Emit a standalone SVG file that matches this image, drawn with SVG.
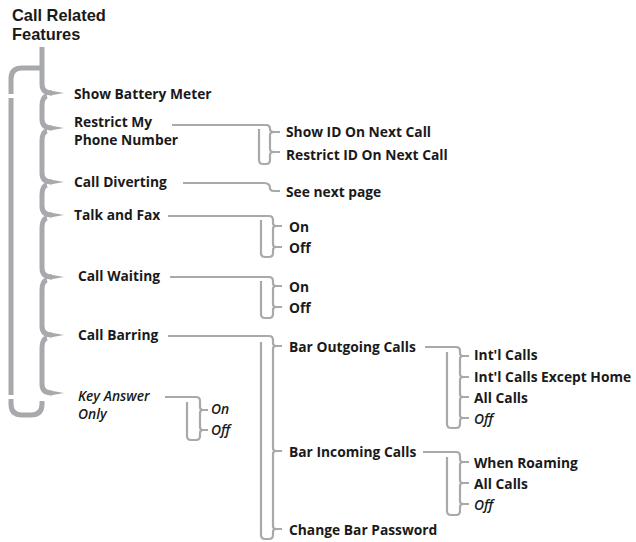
<svg xmlns="http://www.w3.org/2000/svg" width="636" height="542" viewBox="0 0 636 542">
<style>
.ln{fill:none;stroke:#a7a9ac;stroke-width:2.2;stroke-linecap:butt;stroke-linejoin:round}
.mn{fill:none;stroke:#a7a9ac;stroke-width:5;stroke-linecap:butt}
.tp{fill:#a7a9ac}
text{font-family:"Open Sans","Noto Sans","Liberation Sans",sans-serif;font-size:13.8px;font-weight:700;fill:#1a1a1a}
.it{font-style:italic;font-weight:600}
.ti{font-family:"Liberation Sans",Arial,sans-serif;font-size:16.4px;font-weight:700}
</style>
<rect width="636" height="542" fill="#fff"/>
<g id="connectors">
<g id="main-tree">
<path class="mn" d="M42 47 L42 84 Q42 93 52 93"/>
<path class="mn" d="M47 96 Q42 97 42 106 L42 119 Q42 128 52 128"/>
<path class="mn" d="M47 131 Q42 132 42 141 L42 173 Q42 182 52 182"/>
<path class="mn" d="M47 185 Q42 186 42 195 L42 206 Q42 215 52 215"/>
<path class="mn" d="M47 218 Q42 219 42 228 L42 268 Q42 277 52 277"/>
<path class="mn" d="M47 280 Q42 281 42 290 L42 326 Q42 335 52 335"/>
<path class="mn" d="M47 338 Q42 339 42 348 L42 384 Q42 393 52 393"/>
<polygon class="tp" points="50,90.5 64,93 50,95.5"/>
<polygon class="tp" points="50,125.5 64,128 50,130.5"/>
<polygon class="tp" points="50,179.5 64,182 50,184.5"/>
<polygon class="tp" points="50,212.5 64,215 50,217.5"/>
<polygon class="tp" points="50,274.5 64,277 50,279.5"/>
<polygon class="tp" points="50,332.5 64,335 50,337.5"/>
<polygon class="tp" points="50,390.5 64,393 50,395.5"/>
<path class="mn" d="M40 68 L22 68 Q11 68 11 79 L11 94"/>
<path class="mn" d="M11 98 L11 395"/>
<path class="mn" d="M11 399 L11 404 Q11 415 22 415 L31 415 Q42 415 42 404 L42 401"/>
</g>
<g id="restrict-bracket">
<path class="ln" d="M172 125 L266 125 Q270 125 270 129 Q270 132 274 132 L280 132 M274 132 Q270 132 270 135 L270 149 Q270 152 274 152 L280 152 M274 152 Q270 152 270 155 L270 160 Q270 164 266 164 L263 164 Q259 164 259 160 L259 129"/>
</g>
<g id="divert-link">
<path class="ln" d="M183 183 L264 183 Q270 183 270 188 Q270 191 274 191 L280 191"/>
</g>
<g id="talkfax-bracket">
<path class="ln" d="M168 216 L269 216 Q273 216 273 220 L273 223 Q273 226 276 226 L282 226 M276 226 Q273 226 273 229 L273 244 Q273 247 276 247 L282 247 M276 247 Q273 247 273 250 L273 253 Q273 257 269 257 L265 257 Q261 257 261 253 L261 220"/>
</g>
<g id="waiting-bracket">
<path class="ln" d="M170 277 L269 277 Q273 277 273 281 L273 283 Q273 286 276 286 L282 286 M276 286 Q273 286 273 289 L273 304 Q273 307 276 307 L282 307 M276 307 Q273 307 273 310 L273 314 Q273 318 269 318 L265 318 Q261 318 261 314 L261 281"/>
</g>
<g id="barring-bracket">
<path class="ln" d="M168 336 L269 336 Q273 336 273 340 L273 343 Q273 346 276 346 L282 346 M276 346 Q273 346 273 349 L273 448 Q273 451 276 451 L282 451 M276 451 Q273 451 273 454 L273 526 Q273 529 276 529 L282 529 M276 529 Q273 529 273 532 L273 535 Q273 539 269 539 L265 539 Q261 539 261 535 L261 342"/>
</g>
<g id="outgoing-bracket">
<path class="ln" d="M425 347 L456 347 Q460 347 460 351 L460 353 Q460 356 463 356 L469 356 M463 356 Q460 356 460 359 L460 374 Q460 377 463 377 L469 377 M463 377 Q460 377 460 380 L460 394 Q460 397 463 397 L469 397 M463 397 Q460 397 460 400 L460 415 Q460 418 463 418 L469 418 M463 418 Q460 418 460 421 L460 424 Q460 428 456 428 L451 428 Q447 428 447 424 L447 352"/>
</g>
<g id="incoming-bracket">
<path class="ln" d="M423 452 L456 452 Q460 452 460 456 L460 459 Q460 462 463 462 L469 462 M463 462 Q460 462 460 465 L460 480 Q460 483 463 483 L469 483 M463 483 Q460 483 460 486 L460 501 Q460 504 463 504 L469 504 M463 504 Q460 504 460 507 L460 511 Q460 515 456 515 L451 515 Q447 515 447 511 L447 457"/>
</g>
<g id="keyanswer-bracket">
<path class="ln" d="M165 397 L196 397 Q200 397 200 401 L200 407 Q200 410 203 410 L208 410 M203 410 Q200 410 200 413 L200 427 Q200 430 203 430 L208 430 M203 430 Q200 430 200 433 L200 436 Q200 440 196 440 L191 440 Q187 440 187 436 L187 402"/>
</g>
</g>
<g id="root"><text class="ti" x="12" y="21">Call Related<tspan x="12" y="40">Features</tspan></text></g>
<g id="n-battery"><text x="74" y="99">Show Battery Meter</text></g>
<g id="n-restrict"><text x="74" y="127">Restrict My<tspan x="74" y="145">Phone Number</tspan></text></g>
<g id="n-showid"><text x="286" y="137">Show ID On Next Call</text></g>
<g id="n-restrictid"><text x="286" y="160">Restrict ID On Next Call</text></g>
<g id="n-divert"><text x="74" y="187">Call Diverting</text></g>
<g id="n-seenext"><text x="286" y="197">See next page</text></g>
<g id="n-talkfax"><text x="74" y="220">Talk and Fax</text></g>
<g id="n-tf-on"><text x="289" y="232">On</text></g>
<g id="n-tf-off"><text x="289" y="253">Off</text></g>
<g id="n-waiting"><text x="78" y="281">Call Waiting</text></g>
<g id="n-cw-on"><text x="289" y="292">On</text></g>
<g id="n-cw-off"><text x="289" y="313">Off</text></g>
<g id="n-barring"><text x="78" y="340">Call Barring</text></g>
<g id="n-barout"><text x="289" y="352">Bar Outgoing Calls</text></g>
<g id="n-intl"><text x="474" y="360">Int'l Calls</text></g>
<g id="n-intlhome"><text x="474" y="382">Int'l Calls Except Home</text></g>
<g id="n-allout"><text x="474" y="403">All Calls</text></g>
<g id="n-offout"><text class="it" x="474" y="424">Off</text></g>
<g id="n-barin"><text x="289" y="457">Bar Incoming Calls</text></g>
<g id="n-roam"><text x="474" y="468">When Roaming</text></g>
<g id="n-allin"><text x="474" y="489">All Calls</text></g>
<g id="n-offin"><text class="it" x="474" y="510">Off</text></g>
<g id="n-changepw"><text x="289" y="535">Change Bar Password</text></g>
<g id="n-keyans"><text class="it" x="78" y="401">Key Answer<tspan x="78" y="419">Only</tspan></text></g>
<g id="n-ka-on"><text class="it" x="211" y="414">On</text></g>
<g id="n-ka-off"><text class="it" x="211" y="435">Off</text></g>
</svg>
